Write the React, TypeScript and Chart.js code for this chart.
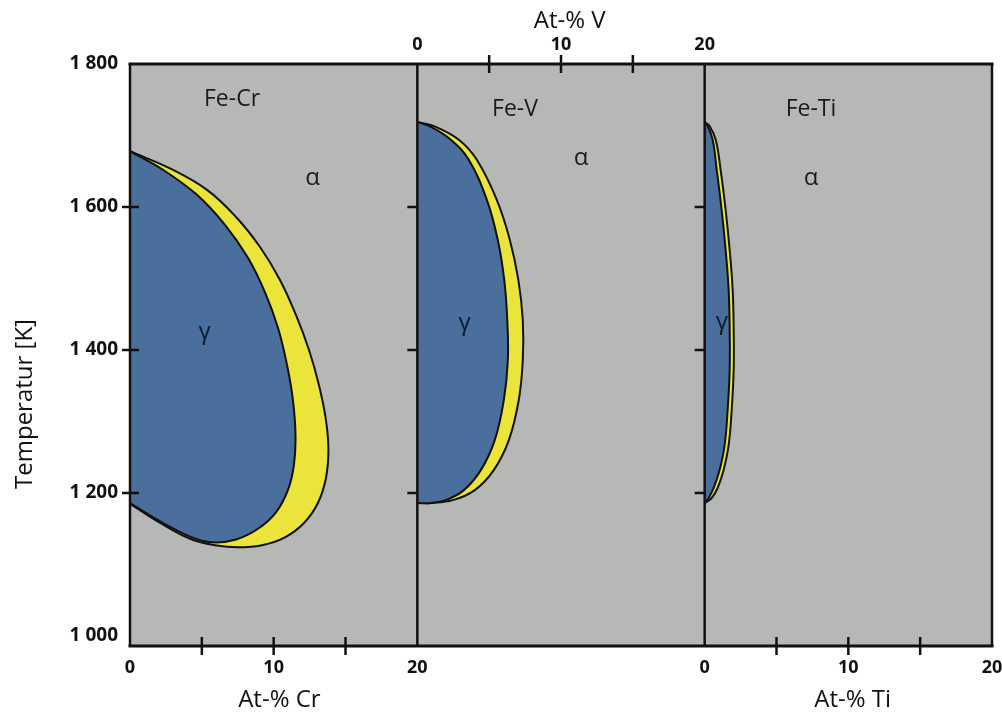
import React, { useEffect, useRef } from 'react';
import { Chart, registerables } from 'chart.js';

Chart.register(...registerables);

// Temperature axis (K)
const tempTickValues = [1000, 1200, 1400, 1600, 1800];
const tempTickLabels = ['1 000', '1 200', '1 400', '1 600', '1 800'];
const tempMarkValues = [1200, 1400, 1600];
const tempMin = 986;
const tempMax = 1800;

// Composition axes (At-%)
const compTickValues = [0, 10, 20];
const compTickLabels = ['0', '10', '20'];
const compMarkValues = [5, 10, 15];

// Fe-Cr: outer boundary of the (alpha + gamma) field and the gamma loop
const crOuterX = [0, 2.78, 5.36, 7.38, 9.05, 10.44, 11.55, 12.46, 13.15, 13.64, 13.81, 13.64, 13.08, 12.11, 10.79, 9.19, 7.52, 5.92, 4.18, 1.95, 0];
const crOuterT = [1678, 1654, 1624, 1586, 1544, 1498, 1449, 1400, 1351, 1302, 1260, 1221, 1186, 1158, 1138, 1127, 1124, 1127, 1136, 1160, 1185];
const crGammaX = [0, 2.3, 4.66, 6.61, 8.21, 9.39, 10.3, 10.93, 11.34, 11.52, 11.41, 10.99, 10.16, 8.91, 7.38, 5.71, 4.18, 1.95, 0];
const crGammaT = [1678, 1652, 1617, 1575, 1529, 1481, 1431, 1379, 1330, 1281, 1239, 1204, 1173, 1150, 1135, 1131, 1139, 1162, 1186];

// Fe-V
const vOuterX = [0, 1.29, 2.89, 4.14, 5.53, 6.44, 7.03, 7.34, 7.34, 7.06, 6.37, 5.32, 4.0, 2.47, 0.94, 0];
const vOuterT = [1719, 1712, 1694, 1666, 1610, 1554, 1498, 1442, 1386, 1330, 1274, 1232, 1204, 1190, 1186, 1186];
const vGammaX = [0, 0.94, 2.33, 3.58, 4.84, 5.6, 6.05, 6.26, 6.3, 6.02, 5.39, 4.42, 3.24, 1.98, 0.94, 0];
const vGammaT = [1719, 1712, 1694, 1666, 1610, 1554, 1498, 1442, 1386, 1330, 1274, 1232, 1204, 1190, 1186, 1186];

// Fe-Ti
const tiOuterX = [0, 0.35, 0.77, 1.11, 1.46, 1.74, 1.95, 2.02, 2.02, 1.88, 1.67, 1.32, 0.9, 0.49, 0];
const tiOuterT = [1719, 1713, 1694, 1652, 1596, 1540, 1484, 1428, 1372, 1316, 1267, 1232, 1207, 1193, 1186];
const tiGammaX = [0, 0.21, 0.56, 0.84, 1.18, 1.46, 1.67, 1.74, 1.74, 1.6, 1.39, 1.04, 0.63, 0.28, 0];
const tiGammaT = [1719, 1713, 1694, 1652, 1596, 1540, 1484, 1428, 1372, 1316, 1267, 1232, 1207, 1193, 1186];

// Panel annotations (system name, alpha field, gamma field) in each panel's own units
const panelAxisIds = ['x1', 'x2', 'x3'];
const panelNames = ['Fe-Cr', 'Fe-V', 'Fe-Ti'];
const nameAt = [[7.1, 1750], [6.8, 1736], [7.4, 1736]];
const alphaAt = [[12.7, 1641], [11.4, 1669], [7.4, 1641]];
const gammaAt = [[5.2, 1425], [3.3, 1438], [1.2, 1439]];

const GRAY = '#b6b8b5';
const BLUE = '#4a6f9c';
const YELLOW = '#ebe53b';
const INK = '#111111';
const FONT = "'Open Sans', 'Noto Sans', sans-serif";

const TOP_H = 64;
const BOTTOM_H = 67;
const LEFT_W = 130;

const toPoints = (xs: number[], ts: number[]) => xs.map((x, i) => ({ x, y: ts[i] }));

function loop(axis: string, xs: number[], ts: number[], color: string, order: number) {
  return {
    xAxisID: axis,
    yAxisID: 'y',
    data: toPoints(xs, ts),
    borderColor: INK,
    borderWidth: 2,
    backgroundColor: color,
    fill: 'shape',
    tension: 0.4,
    pointRadius: 0,
    pointHoverRadius: 0,
    order,
  };
}

const zeroPadding = (s: any) => {
  s.paddingLeft = 0;
  s.paddingRight = 0;
  s.paddingTop = 0;
  s.paddingBottom = 0;
};

function compAxis(position: 'top' | 'bottom', weight: number, visible: boolean) {
  const height = position === 'top' ? TOP_H : BOTTOM_H;
  const fixSize = (s: any) => {
    zeroPadding(s);
    s.height = height;
  };
  const base: any = {
    type: 'linear',
    position,
    stack: 'panels',
    weight,
    min: 0,
    max: 20,
    afterFit: fixSize,
  };
  if (!visible) {
    return { ...base, display: false };
  }
  return {
    ...base,
    grid: { display: false, drawTicks: false },
    border: { display: false },
    ticks: {
      autoSkip: false,
      maxRotation: 0,
      padding: position === 'top' ? 8 : 11,
      color: INK,
      font: { family: FONT, size: 18, weight: 'bold' },
      callback: (_v: any, i: number) => compTickLabels[i],
    },
    afterBuildTicks: (s: any) => {
      s.ticks = compTickValues.map((v) => ({ value: v }));
    },
  };
}

const framePlugin = {
  id: 'phaseFrame',
  beforeDraw(chart: any) {
    const { ctx, chartArea: a } = chart;
    ctx.save();
    ctx.fillStyle = '#ffffff';
    ctx.fillRect(0, 0, chart.width, chart.height);
    ctx.fillStyle = GRAY;
    ctx.fillRect(a.left, a.top, a.right - a.left, a.bottom - a.top);
    ctx.restore();
  },
  afterDatasetsDraw(chart: any) {
    const { ctx, chartArea: a, scales } = chart;
    const y = scales.y;
    const x1 = scales.x1;
    const x2 = scales.x2;
    const x3 = scales.x3;
    const div1 = x1.getPixelForValue(20);
    const div2 = x2.getPixelForValue(20);
    const seg = (ax: number, ay: number, bx: number, by: number) => {
      ctx.beginPath();
      ctx.moveTo(ax, ay);
      ctx.lineTo(bx, by);
      ctx.stroke();
    };

    ctx.save();
    ctx.strokeStyle = INK;
    ctx.lineCap = 'butt';

    // frame and panel dividers
    ctx.lineWidth = 3;
    seg(a.left - 1.5, a.top, a.right + 1.5, a.top);
    seg(a.left - 1.5, a.bottom, a.right + 1.5, a.bottom);
    ctx.lineWidth = 2.5;
    seg(a.left, a.top, a.left, a.bottom);
    seg(a.right, a.top, a.right, a.bottom);
    seg(div1, a.top, div1, a.bottom);
    seg(div2, a.top, div2, a.bottom);

    // temperature tick marks
    for (const v of tempMarkValues) {
      const py = y.getPixelForValue(v);
      seg(a.left - 8, py, a.left + 9, py);
      seg(div1 - 10, py, div1, py);
      seg(div2 - 10, py, div2, py);
    }

    // composition tick marks
    for (const v of compMarkValues) {
      for (const s of [x1, x3]) {
        const px = s.getPixelForValue(v);
        seg(px, a.bottom - 9, px, a.bottom + 9);
      }
      const px = x2.getPixelForValue(v);
      seg(px, a.top - 9, px, a.top + 9);
    }

    // axis titles
    ctx.fillStyle = INK;
    ctx.textAlign = 'center';
    ctx.textBaseline = 'middle';
    ctx.font = `24px ${FONT}`;
    ctx.fillText('At-% Cr', x1.getPixelForValue(10.4), a.bottom + 54);
    ctx.fillText('At-% V', x2.getPixelForValue(10.6), a.top - 43);
    ctx.fillText('At-% Ti', x3.getPixelForValue(10.3), a.bottom + 54);
    ctx.save();
    ctx.translate(25, (a.top + a.bottom) / 2 + 49);
    ctx.rotate(-Math.PI / 2);
    ctx.fillText('Temperatur [K]', 0, 0);
    ctx.restore();

    // panel annotations
    panelAxisIds.forEach((id, i) => {
      const s = scales[id];
      ctx.fillStyle = '#1a1a1a';
      ctx.font = `23px ${FONT}`;
      ctx.fillText(panelNames[i], s.getPixelForValue(nameAt[i][0]), y.getPixelForValue(nameAt[i][1]));
      ctx.font = `24px ${FONT}`;
      ctx.fillText('α', s.getPixelForValue(alphaAt[i][0]), y.getPixelForValue(alphaAt[i][1]));
      ctx.fillStyle = '#0c1a30';
      ctx.fillText('γ', s.getPixelForValue(gammaAt[i][0]), y.getPixelForValue(gammaAt[i][1]));
    });

    ctx.restore();
  },
};

export default function App() {
  const canvasRef = useRef<HTMLCanvasElement | null>(null);

  useEffect(() => {
    if (!canvasRef.current) return;
    const chart = new Chart(canvasRef.current, {
      type: 'line',
      data: {
        datasets: [
          loop('x1', crGammaX, crGammaT, BLUE, 0),
          loop('x2', vGammaX, vGammaT, BLUE, 0),
          loop('x3', tiGammaX, tiGammaT, BLUE, 0),
          loop('x1', crOuterX, crOuterT, YELLOW, 1),
          loop('x2', vOuterX, vOuterT, YELLOW, 1),
          loop('x3', tiOuterX, tiOuterT, YELLOW, 1),
        ] as any,
      },
      options: {
        responsive: false,
        animation: false,
        events: [],
        layout: { padding: { left: 0, right: 10, top: 0, bottom: 0 } },
        plugins: {
          legend: { display: false },
          tooltip: { enabled: false },
        },
        scales: {
          y: {
            type: 'linear',
            position: 'left',
            min: tempMin,
            max: tempMax,
            grid: { display: false, drawTicks: false },
            border: { display: false },
            ticks: {
              autoSkip: false,
              padding: 12,
              color: INK,
              font: { family: FONT, size: 19, weight: 'bold' },
              callback: (_v: any, i: number) => tempTickLabels[i],
            },
            afterBuildTicks: (s: any) => {
              s.ticks = tempTickValues.map((v) => ({ value: v }));
            },
            afterFit: (s: any) => {
              zeroPadding(s);
              s.width = LEFT_W;
            },
          },
          x1: compAxis('bottom', 0, true),
          x2b: compAxis('bottom', 1, false),
          x3: compAxis('bottom', 2, true),
          x1t: compAxis('top', 2, false),
          x2: compAxis('top', 1, true),
          x3t: compAxis('top', 0, false),
        } as any,
      },
      plugins: [framePlugin],
    });
    return () => chart.destroy();
  }, []);

  return (
    <div style={{ position: 'fixed', left: 0, top: 0, width: 1002, height: 713, background: '#fff' }}>
      <canvas ref={canvasRef} width={1002} height={713} style={{ display: 'block' }} />
    </div>
  );
}
